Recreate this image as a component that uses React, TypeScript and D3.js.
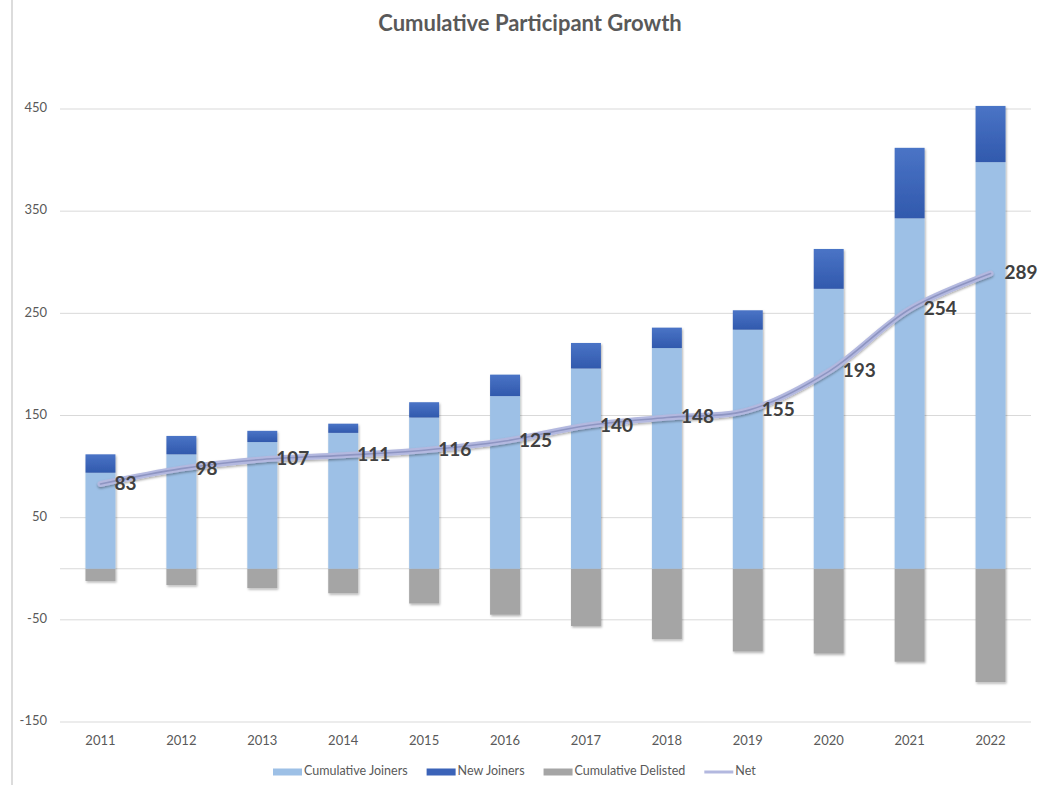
import React, { useEffect, useRef } from "react";
import * as d3 from "d3";

const years = ["2011", "2012", "2013", "2014", "2015", "2016", "2017", "2018", "2019", "2020", "2021", "2022"];
const cumulativeJoiners = [94, 112, 124, 133, 148, 169, 196, 216, 234, 274, 343, 398];
const newJoiners = [18, 18, 11, 9, 15, 21, 25, 20, 19, 39, 69, 55];
const cumulativeDelisted = [-12, -16, -19, -24, -34, -45, -56, -69, -81, -83, -91, -111];
const net = [83, 98, 107, 111, 116, 125, 140, 148, 155, 193, 254, 289];
const yTicks = [450, 350, 250, 150, 50, -50, -150];
const legendItems = ["Cumulative Joiners", "New Joiners", "Cumulative Delisted", "Net"];
const title = "Cumulative Participant Growth";

const W = 1048;
const H = 790;
const C_LIGHT = "#9dc0e6";
const C_DARK = "#3b63b8";
const C_GRAY = "#a5a5a5";
const C_NET = "#b3b8df";
const C_TEXT = "#595959";
const FONT = "Lato, 'Open Sans', sans-serif";

export default function App() {
  const ref = useRef<SVGSVGElement | null>(null);

  useEffect(() => {
    const svg = d3.select(ref.current);
    svg.selectAll("*").remove();

    const x = d3.scaleBand<string>().domain(years).range([60, 1031]).paddingInner(0.63).paddingOuter(0.315);
    const y = d3.scaleLinear().domain([-150, 450]).range([722, 109]);

    const defs = svg.append("defs");
    const f = defs.append("filter").attr("id", "shadow").attr("x", "-20%").attr("y", "-20%").attr("width", "150%").attr("height", "150%");
    f.append("feDropShadow").attr("dx", 1).attr("dy", 1.5).attr("stdDeviation", 1.2).attr("flood-color", "#000").attr("flood-opacity", 0.3);
    const g1 = defs.append("linearGradient").attr("id", "darkgrad").attr("x1", 0).attr("x2", 0).attr("y1", 0).attr("y2", 1);
    g1.append("stop").attr("offset", "0%").attr("stop-color", "#4a74c6");
    g1.append("stop").attr("offset", "100%").attr("stop-color", "#3159ad");
    const lf = defs.append("filter").attr("id", "lineshadow").attr("x", "-5%").attr("y", "-20%").attr("width", "110%").attr("height", "140%");
    lf.append("feDropShadow").attr("dx", 0).attr("dy", 1.5).attr("stdDeviation", 1).attr("flood-color", "#000").attr("flood-opacity", 0.35);

    svg.append("rect").attr("x", 0).attr("y", 0).attr("width", W).attr("height", H).attr("fill", "#fff");
    // chart frame edge
    svg.append("line").attr("x1", 12).attr("x2", 12).attr("y1", 0).attr("y2", 785).attr("stroke", "#dcdcdc").attr("stroke-width", 2);

    // title
    svg.append("text").attr("x", 530).attr("y", 25).attr("text-anchor", "middle").attr("dominant-baseline", "middle")
      .attr("font-family", FONT).attr("font-weight", 700).attr("font-size", 22).attr("fill", C_TEXT).text(title);

    // gridlines
    const grid = svg.append("g");
    grid.selectAll("line").data([...yTicks, 0]).join("line")
      .attr("x1", 60).attr("x2", 1031)
      .attr("y1", (d) => y(d)).attr("y2", (d) => y(d))
      .attr("stroke", "#d9d9d9").attr("stroke-width", 1);

    // y tick labels
    svg.append("g").selectAll("text").data(yTicks).join("text")
      .attr("x", 47).attr("y", (d) => y(d)).attr("text-anchor", "end").attr("dominant-baseline", "middle")
      .attr("font-family", FONT).attr("font-size", 13).attr("fill", C_TEXT).text((d) => String(d));

    // x labels
    svg.append("g").selectAll("text").data(years).join("text")
      .attr("x", (d) => (x(d) as number) + x.bandwidth() / 2).attr("y", 742)
      .attr("text-anchor", "middle").attr("dominant-baseline", "middle")
      .attr("font-family", FONT).attr("font-size", 13).attr("fill", C_TEXT).text((d) => d);

    const bars = svg.append("g").attr("filter", "url(#shadow)");
    // cumulative delisted
    bars.selectAll("rect.del").data(years).join("rect").attr("class", "del")
      .attr("x", (d) => x(d) as number).attr("width", x.bandwidth())
      .attr("y", y(0)).attr("height", (_, i) => y(cumulativeDelisted[i]) - y(0))
      .attr("fill", C_GRAY);
    // cumulative joiners
    bars.selectAll("rect.cj").data(years).join("rect").attr("class", "cj")
      .attr("x", (d) => x(d) as number).attr("width", x.bandwidth())
      .attr("y", (_, i) => y(cumulativeJoiners[i])).attr("height", (_, i) => y(0) - y(cumulativeJoiners[i]))
      .attr("fill", C_LIGHT);
    // new joiners
    bars.selectAll("rect.nj").data(years).join("rect").attr("class", "nj")
      .attr("x", (d) => x(d) as number).attr("width", x.bandwidth())
      .attr("y", (_, i) => y(cumulativeJoiners[i] + newJoiners[i])).attr("height", (_, i) => y(cumulativeJoiners[i]) - y(cumulativeJoiners[i] + newJoiners[i]))
      .attr("fill", "url(#darkgrad)");

    // net line
    const pts: [number, number][] = years.map((d, i) => [(x(d) as number) + x.bandwidth() / 2, y(net[i])]);
    const line = d3.line().curve(d3.curveCatmullRom.alpha(0.5));
    const lg = svg.append("g");
    lg.append("path").attr("d", line(pts)).attr("fill", "none").attr("stroke", C_NET).attr("stroke-width", 6)
      .attr("stroke-linecap", "round").attr("filter", "url(#lineshadow)");
    lg.append("path").attr("d", line(pts)).attr("fill", "none").attr("stroke", "#8e95c2").attr("stroke-width", 1.6)
      .attr("stroke-linecap", "round");

    // net labels
    svg.append("g").selectAll("text").data(pts).join("text")
      .attr("x", (d) => d[0] + 14).attr("y", (d) => d[1] + 1)
      .attr("dominant-baseline", "middle")
      .attr("font-family", FONT).attr("font-weight", 700).attr("font-size", 19).attr("fill", "#404040")
      .text((_, i) => String(net[i]));

    // legend
    const legend = svg.append("g");
    const ly = 772;
    let lx = 273;
    legendItems.forEach((name, i) => {
      if (i < 3) {
        legend.append("rect").attr("x", lx).attr("y", ly - 3.5).attr("width", 29).attr("height", 7)
          .attr("fill", [C_LIGHT, C_DARK, C_GRAY][i]);
      } else {
        legend.append("line").attr("x1", lx).attr("x2", lx + 29).attr("y1", ly).attr("y2", ly)
          .attr("stroke", C_NET).attr("stroke-width", 3);
      }
      const t = legend.append("text").attr("x", lx + 31).attr("y", ly).attr("dominant-baseline", "middle")
        .attr("font-family", FONT).attr("font-size", 12.5).attr("fill", C_TEXT).text(name);
      const w = (t.node() as SVGTextElement).getComputedTextLength();
      lx += 31 + w + 19;
    });
  }, []);

  return (
    <svg ref={ref} width={W} height={H} style={{ position: "absolute", left: 0, top: 0 }} />
  );
}
